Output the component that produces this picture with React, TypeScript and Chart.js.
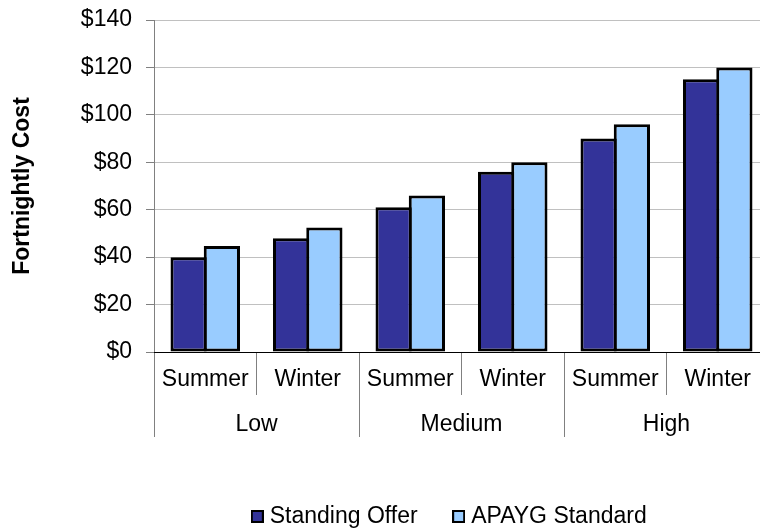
import React, { useEffect, useRef } from "react";
import { Chart, registerables } from "chart.js";

Chart.register(...registerables);

const categories = ["Summer", "Winter", "Summer", "Winter", "Summer", "Winter"];
const groups = ["Low", "Medium", "High"];
const seriesNames = ["Standing Offer", "APAYG Standard"];
const standingOffer = [40, 48, 61, 76, 90, 115];
const apaygStandard = [44.7, 52.5, 66, 80, 96, 120];
const yTicks = [0, 20, 40, 60, 80, 100, 120, 140];
const seriesColors = ["#333399", "#99CCFF"];

const FONT = "'Liberation Sans', Arial, sans-serif";

function makeSwatch(color: string): HTMLCanvasElement {
  const c = document.createElement("canvas");
  c.width = 13;
  c.height = 13;
  const g = c.getContext("2d")!;
  g.fillStyle = "#000";
  g.fillRect(0, 0, 13, 13);
  g.fillStyle = color;
  g.fillRect(2, 2, 9, 9);
  return c;
}

const legendShift = {
  id: "legendShift",
  afterLayout(chart: any) {
    if (chart.legend) {
      chart.legend.left -= 10;
      chart.legend.right -= 10;
    }
  },
};

export default function App() {
  const ref = useRef<HTMLCanvasElement | null>(null);

  useEffect(() => {
    if (!ref.current) return;
    const swatches = seriesColors.map(makeSwatch);
    const barCommon = {
      borderColor: "#000000",
      borderWidth: 3,
      borderSkipped: false,
      categoryPercentage: 0.6488,
      barPercentage: 1.0902,
    };
    const chart = new Chart(ref.current, {
      type: "bar",
      data: {
        labels: categories,
        datasets: [
          { label: seriesNames[0], data: standingOffer, backgroundColor: seriesColors[0], ...barCommon },
          { label: seriesNames[1], data: apaygStandard, backgroundColor: seriesColors[1], ...barCommon },
        ],
      },
      plugins: [legendShift],
      options: {
        animation: false,
        responsive: false,
        layout: { padding: { top: 20, right: 3, bottom: -6, left: 0 } },
        plugins: {
          tooltip: { enabled: false },
          legend: {
            position: "bottom",
            fullSize: false,
            labels: {
              usePointStyle: true,
              pointStyleWidth: 2,
              boxHeight: 13,
              padding: 40,
              color: "#000",
              font: { family: FONT, size: 23 },
              generateLabels: (chart: any) =>
                chart.data.datasets.map((ds: any, i: number) => ({
                  text: ds.label,
                  fillStyle: ds.backgroundColor,
                  strokeStyle: "#000",
                  lineWidth: 0,
                  pointStyle: swatches[i],
                  fontColor: "#000",
                  hidden: false,
                  datasetIndex: i,
                })),
            },
          },
        },
        scales: {
          y: {
            min: 0,
            max: 140,
            afterBuildTicks: (s: any) => {
              s.ticks = yTicks.map((v) => ({ value: v }));
            },
            afterFit: (s: any) => {
              s.width = 154;
              s.paddingTop = 0;
              s.paddingBottom = 0;
            },
            ticks: {
              color: "#000",
              font: { family: FONT, size: 23 },
              padding: 14,
              callback: (v: any) => "$" + v,
            },
            grid: {
              color: (c: any) => (c.tick && c.tick.value === 0 ? "rgba(0,0,0,0)" : "#c0c0c0"),
              tickColor: "#808080",
              tickLength: 8,
              lineWidth: 1,
            },
            border: { color: "#808080", width: 1 },
            title: {
              display: true,
              text: "Fortnightly Cost",
              color: "#000",
              font: { family: FONT, size: 23, weight: "bold" },
              padding: { top: 9, bottom: 0 },
            },
          },
          x: {
            type: "category",
            position: "bottom",
            offset: true,
            afterFit: (s: any) => {
              s.height = 43;
            },
            grid: {
              display: true,
              drawOnChartArea: false,
              offset: true,
              tickLength: 43,
              color: "#808080",
            },
            border: { display: true, color: "#000", width: 1 },
            ticks: {
              color: "#000",
              font: { family: FONT, size: 23 },
              padding: -29,
              autoSkip: false,
              maxRotation: 0,
              minRotation: 0,
            },
          },
          x2: {
            type: "category",
            position: "bottom",
            labels: groups,
            offset: true,
            afterFit: (s: any) => {
              s.height = 70;
            },
            grid: {
              display: true,
              drawOnChartArea: false,
              offset: true,
              tickLength: 42,
              color: "#808080",
            },
            border: { display: false },
            ticks: {
              color: "#000",
              font: { family: FONT, size: 23 },
              padding: -26,
              autoSkip: false,
              maxRotation: 0,
              minRotation: 0,
            },
          },
        },
      } as any,
    });
    return () => chart.destroy();
  }, []);

  return (
    <div
      style={{
        position: "absolute",
        left: 0,
        top: 0,
        width: 760,
        height: 532,
        overflow: "hidden",
        background: "#fff",
      }}
    >
      <canvas ref={ref} width={772} height={532} style={{ display: "block" }} />
    </div>
  );
}
